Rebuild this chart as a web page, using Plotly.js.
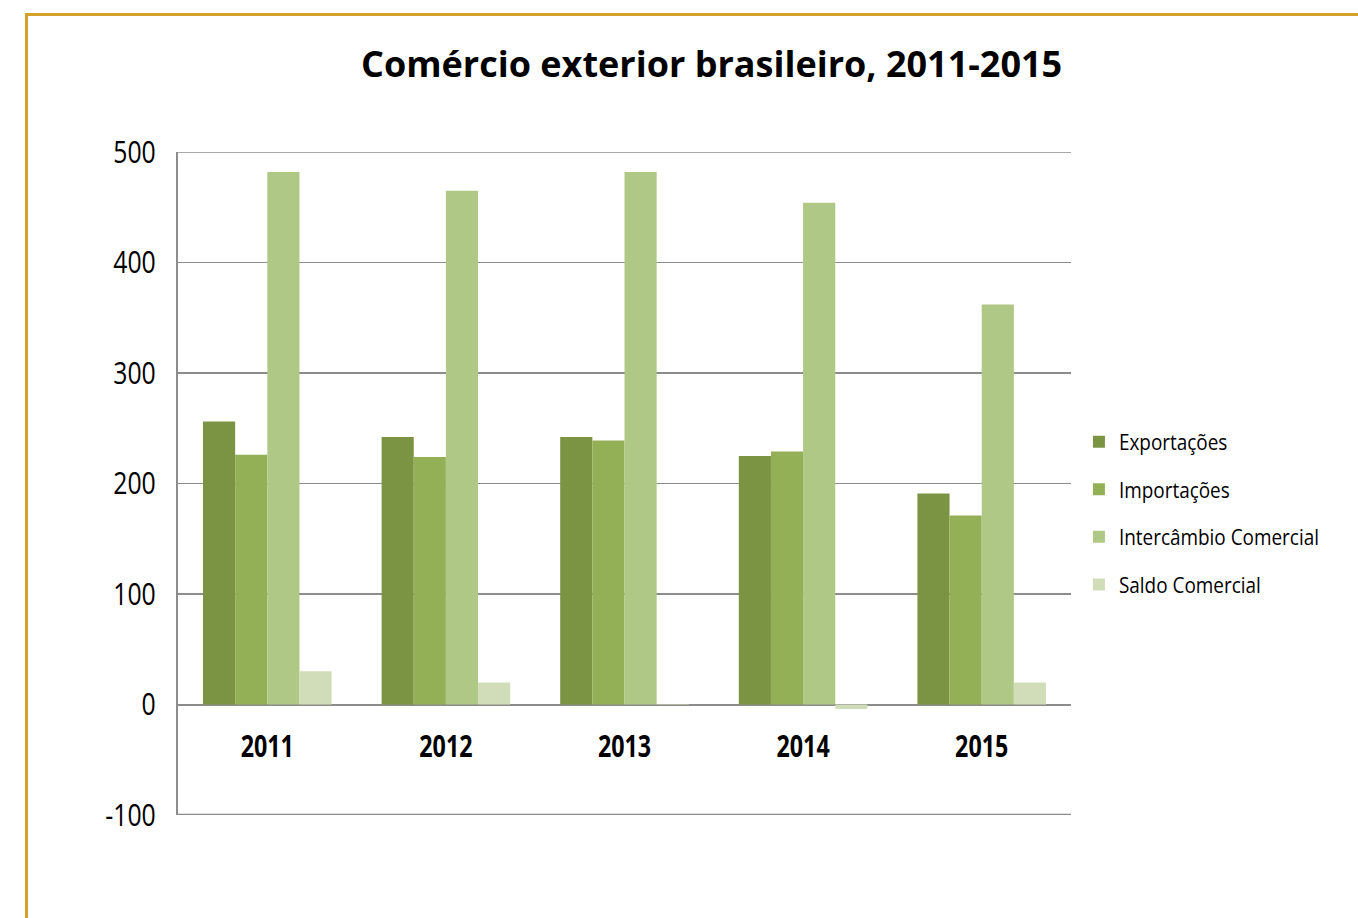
<!DOCTYPE html>
<html>
<head>
<meta charset="utf-8">
<script src="https://cdn.plot.ly/plotly-3.0.1.min.js"></script>
<style>
  html, body { margin: 0; padding: 0; background: #fff; }
  #wrap { position: relative; width: 1358px; height: 918px; overflow: hidden; }
  #chart { position: absolute; left: 0; top: 0; width: 1358px; height: 918px; }
  #frame { position: absolute; left: 25px; top: 13px; width: 1400px; height: 1000px;
           border: 3px solid #d4a22a; box-sizing: border-box; pointer-events: none; z-index: 5; }
</style>
</head>
<body>
<div id="wrap">
  <div id="chart"></div>
  <div id="frame"></div>
</div>
<script>
const years = ['2011', '2012', '2013', '2014', '2015'];
const exportacoes = [256, 242, 242, 225, 191];
const importacoes = [226, 224, 239, 229, 171];
const intercambio = [482, 465, 482, 454, 362];
const saldo = [30, 20, 0.5, -4, 20];

const yTickVals = [-100, 0, 100, 200, 300, 400, 500];
const yTickText = ['-100', '0', '100', '200', '300', '400', '500'];

const seriesNames = ['Exportações', 'Importações', 'Intercâmbio Comercial', 'Saldo Comercial'];
const seriesValues = [exportacoes, importacoes, intercambio, saldo];
const seriesColors = ['#7a9444', '#93b057', '#afc886', '#d1ddb9'];

const sans = '"Open Sans", "Noto Sans", sans-serif';
const gridCol = '#8c8c8c';

const traces = seriesNames.map((n, i) => ({
  type: 'bar',
  name: n,
  x: years,
  y: seriesValues[i],
  marker: { color: seriesColors[i], line: { width: 0 } },
  legendgroup: 'g' + i,
  hoverinfo: 'x+y+name'
}));

const layout = {
  width: 1358,
  height: 918,
  margin: { l: 178, r: 287, t: 152, b: 103 },
  paper_bgcolor: '#ffffff',
  plot_bgcolor: '#ffffff',
  barmode: 'group',
  bargap: 0.28,
  bargroupgap: 0,
  title: {
    text: '<b>Comércio exterior brasileiro, 2011-2015</b>',
    font: { family: sans, size: 36, color: '#000' },
    x: 0.524, xanchor: 'center',
    y: 0.930, yanchor: 'middle'
  },
  xaxis: {
    type: 'category',
    categoryarray: years,
    anchor: 'free',
    position: 1 / 6,
    showline: false,
    showgrid: false,
    ticks: '',
    ticklabelstandoff: 20,
    tickfont: { family: sans, size: 31, color: '#000', weight: 'bold' }
  },
  yaxis: {
    range: [-100, 500],
    tickmode: 'array',
    tickvals: yTickVals,
    ticktext: yTickText,
    showline: true,
    linecolor: gridCol,
    linewidth: 2,
    showgrid: true,
    gridcolor: gridCol,
    gridwidth: 1.5,
    zeroline: true,
    zerolinecolor: gridCol,
    zerolinewidth: 2,
    ticks: '',
    ticklabelstandoff: 14,
    tickfont: { family: sans, size: 31, color: '#000' }
  },
  shapes: [
    { type: 'line', xref: 'paper', yref: 'y', x0: 0, x1: 1, y0: 500, y1: 500,
      line: { color: gridCol, width: 1.5 }, layer: 'below' },
    { type: 'line', xref: 'paper', yref: 'y', x0: 0, x1: 1, y0: -100, y1: -100,
      line: { color: gridCol, width: 2.5 }, layer: 'below' }
  ],
  legend: {
    xref: 'container',
    x: 0.7945, xanchor: 'left',
    y: 0.455, yanchor: 'middle',
    traceorder: 'grouped',
    tracegroupgap: 16,
    font: { family: sans, size: 22, color: '#000' },
    bgcolor: 'rgba(0,0,0,0)',
    itemclick: false
  },
  showlegend: true
};

// Narrow the glyph rendering of tick and legend labels (reference uses a condensed face)
function condense(selector, factor) {
  document.querySelectorAll(selector).forEach(t => {
    const w = t.getComputedTextLength();
    if (w > 0) {
      t.setAttribute('textLength', (w * factor).toFixed(2));
      t.setAttribute('lengthAdjust', 'spacingAndGlyphs');
    }
  });
}

Plotly.newPlot('chart', traces, layout, { displayModeBar: false, staticPlot: true }).then(() => {
  condense('#chart .ytick text', 0.8);
  condense('#chart .xtick text', 0.75);
  condense('#chart .legendtext', 0.86);
});
</script>
</body>
</html>
